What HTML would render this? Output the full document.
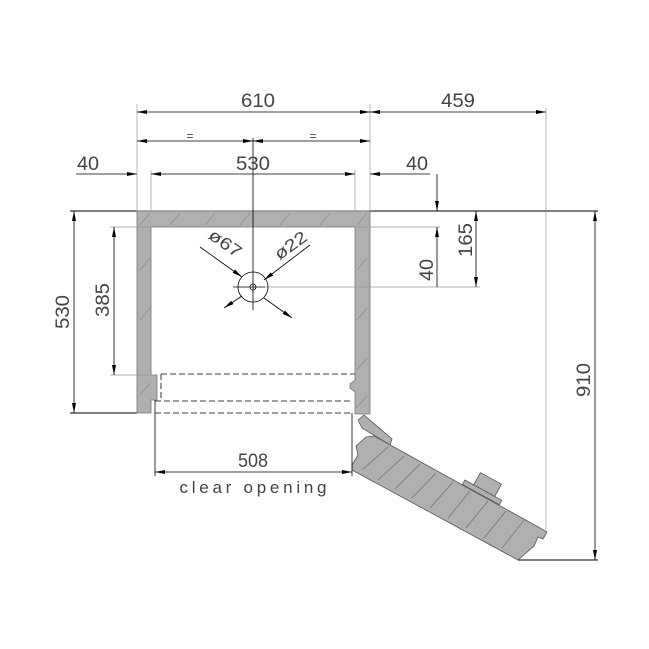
<!DOCTYPE html>
<html><head><style>
html,body{margin:0;padding:0;background:#fff;}
svg{display:block;}
text{font-family:"Liberation Sans",sans-serif;fill:#444;}
</style></head><body>
<svg width="649" height="649" viewBox="0 0 649 649" xmlns="http://www.w3.org/2000/svg">
<defs>
<marker id="a" viewBox="0 0 10 4" refX="10" refY="2" markerWidth="12" markerHeight="4" orient="auto-start-reverse" markerUnits="userSpaceOnUse"><path d="M0,0L10,2L0,4z" fill="#000"/></marker>
</defs>
<g stroke="#000" stroke-width="1" fill="none">
<line x1="70" y1="211" x2="598" y2="211"/>
<line x1="70" y1="413" x2="137" y2="413"/>
<line x1="518" y1="560" x2="598" y2="560"/>
</g>
<g fill="#b0b0b0" stroke="#777" stroke-width="0.8">
<path d="M137,211H370V414H355V392L350,388V384L355,380V227H151V375H157V400H151V413H137Z"/>
</g>
<g stroke="#888" stroke-width="0.6">
<line x1="140" y1="225" x2="150" y2="213"/><line x1="170" y1="225" x2="180" y2="213"/><line x1="205" y1="225" x2="215" y2="213"/><line x1="240" y1="225" x2="250" y2="213"/><line x1="280" y1="225" x2="290" y2="213"/><line x1="320" y1="225" x2="330" y2="213"/><line x1="357" y1="225" x2="367" y2="213"/>
<line x1="140" y1="270" x2="150" y2="258"/><line x1="140" y1="320" x2="150" y2="308"/><line x1="140" y1="395" x2="150" y2="383"/>
<line x1="357" y1="270" x2="367" y2="258"/><line x1="357" y1="320" x2="367" y2="308"/><line x1="357" y1="370" x2="367" y2="358"/><line x1="356" y1="408" x2="367" y2="396"/>
</g>
<g fill="#b0b0b0" stroke="#555" stroke-width="0.8">
<path d="M358,420L364,415L392,439L390,445L362,428Z"/>
<path d="M352,465L358,455L356,446L366,437L374,436L540,528L547,532L543,539L538,537L534,546L518,560L352,470Z"/>
<g transform="translate(466,486.4) rotate(28.7)">
<rect x="-4" y="-5" width="42" height="5"/>
<rect x="6" y="-19" width="24" height="14"/>
</g>
</g>
<g stroke="#666" stroke-width="0.6">
<line x1="362" y1="470" x2="388" y2="447"/><line x1="378" y1="480" x2="404" y2="456"/><line x1="395" y1="489" x2="420" y2="464"/><line x1="412" y1="498" x2="436" y2="473"/><line x1="430" y1="508" x2="453" y2="482"/><line x1="448" y1="518" x2="470" y2="491"/><line x1="466" y1="528" x2="488" y2="501"/><line x1="484" y1="538" x2="506" y2="511"/><line x1="502" y1="548" x2="524" y2="520"/>
</g>
<g stroke="#000" stroke-width="0.8" fill="none" stroke-dasharray="6,3">
<line x1="161" y1="374" x2="355" y2="374"/>
<line x1="155" y1="401" x2="352" y2="401"/>
<line x1="155" y1="413" x2="352" y2="413"/>
<line x1="161" y1="374" x2="161" y2="400"/>
</g>
<g stroke="#999" stroke-width="0.7">
<line x1="137" y1="104" x2="137" y2="211"/>
<line x1="370" y1="104" x2="370" y2="211"/>
<line x1="151" y1="170" x2="151" y2="211"/>
<line x1="355" y1="170" x2="355" y2="211"/>
<line x1="546" y1="108" x2="546" y2="530"/>
<line x1="110" y1="227" x2="151" y2="227"/>
<line x1="355" y1="227" x2="440" y2="227"/>
<line x1="110" y1="375" x2="152" y2="375"/>
<line x1="265" y1="287" x2="480" y2="287"/>
</g>
<g stroke="#000" stroke-width="0.8">
<line x1="155" y1="400" x2="155" y2="476"/>
<line x1="352" y1="413" x2="352" y2="476"/>
</g>
<g stroke="#000" stroke-width="0.8" fill="none">
<line x1="137" y1="112" x2="370" y2="112" marker-start="url(#a)" marker-end="url(#a)"/>
<line x1="370" y1="112" x2="546" y2="112" marker-start="url(#a)" marker-end="url(#a)"/>
<line x1="137" y1="141" x2="253" y2="141" marker-start="url(#a)" marker-end="url(#a)"/>
<line x1="253" y1="141" x2="370" y2="141" marker-start="url(#a)" marker-end="url(#a)"/>
<line x1="151" y1="174" x2="355" y2="174" marker-start="url(#a)" marker-end="url(#a)"/>
<line x1="76" y1="174" x2="137" y2="174" marker-end="url(#a)"/>
<line x1="370" y1="174" x2="430" y2="174" marker-start="url(#a)"/>
<line x1="437" y1="174" x2="437" y2="211" marker-end="url(#a)"/>
<line x1="437" y1="287" x2="437" y2="227" marker-end="url(#a)"/>
<line x1="476" y1="211" x2="476" y2="287" marker-start="url(#a)" marker-end="url(#a)"/>
<line x1="595" y1="211" x2="595" y2="560" marker-start="url(#a)" marker-end="url(#a)"/>
<line x1="74" y1="211" x2="74" y2="413" marker-start="url(#a)" marker-end="url(#a)"/>
<line x1="114" y1="227" x2="114" y2="375" marker-start="url(#a)" marker-end="url(#a)"/>
<line x1="155" y1="472" x2="352" y2="472" marker-start="url(#a)" marker-end="url(#a)"/>
<line x1="253" y1="138" x2="253" y2="310"/>
<line x1="233" y1="287" x2="265" y2="287"/>
<circle cx="253" cy="287" r="15"/>
<circle cx="253" cy="287" r="3"/>
<line x1="200" y1="247" x2="242" y2="277" marker-end="url(#a)"/>
<line x1="224" y1="308" x2="242" y2="296" marker-start="url(#a)"/>
<line x1="310" y1="245" x2="264" y2="280" marker-end="url(#a)"/>
<line x1="292" y1="318" x2="264" y2="298" marker-start="url(#a)"/>
</g>
<g font-size="19">
<text x="258" y="107" text-anchor="middle" textLength="34" lengthAdjust="spacingAndGlyphs">610</text>
<text x="458" y="107" text-anchor="middle" textLength="34" lengthAdjust="spacingAndGlyphs">459</text>
<text x="190" y="140" text-anchor="middle" font-size="12">=</text>
<text x="313" y="140" text-anchor="middle" font-size="12">=</text>
<text x="253" y="170" text-anchor="middle" textLength="34" lengthAdjust="spacingAndGlyphs">530</text>
<text x="88" y="170" text-anchor="middle" textLength="22" lengthAdjust="spacingAndGlyphs">40</text>
<text x="417" y="170" text-anchor="middle" textLength="22" lengthAdjust="spacingAndGlyphs">40</text>
<text x="253" y="467" text-anchor="middle" textLength="30" lengthAdjust="spacingAndGlyphs">508</text>
<text x="253" y="493" text-anchor="middle" font-size="17" textLength="147" lengthAdjust="spacing">clear opening</text>
<text transform="translate(69,312) rotate(-90)" text-anchor="middle" textLength="34" lengthAdjust="spacingAndGlyphs">530</text>
<text transform="translate(109,300) rotate(-90)" text-anchor="middle" textLength="34" lengthAdjust="spacingAndGlyphs">385</text>
<text transform="translate(433,270) rotate(-90)" text-anchor="middle" textLength="22" lengthAdjust="spacingAndGlyphs">40</text>
<text transform="translate(472,240) rotate(-90)" text-anchor="middle" textLength="34" lengthAdjust="spacingAndGlyphs">165</text>
<text transform="translate(590,380) rotate(-90)" text-anchor="middle" textLength="34" lengthAdjust="spacingAndGlyphs">910</text>
<text transform="translate(222,248) rotate(35)" text-anchor="middle" font-size="17" textLength="36" lengthAdjust="spacingAndGlyphs">ø67</text>
<text transform="translate(294,250) rotate(-36)" text-anchor="middle" font-size="17" textLength="36" lengthAdjust="spacingAndGlyphs">ø22</text>
</g>
</svg>
</body></html>
